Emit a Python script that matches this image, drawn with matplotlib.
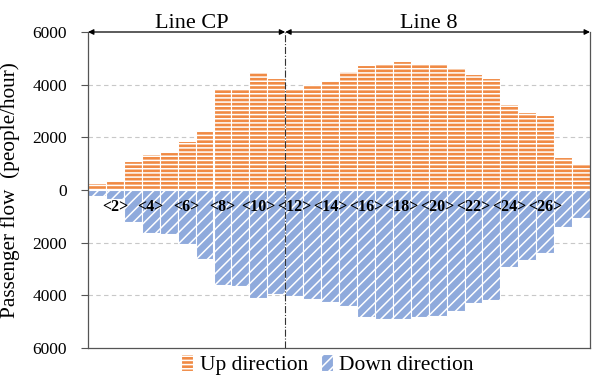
import numpy as np
import matplotlib
matplotlib.use("Agg")
import matplotlib.pyplot as plt
from matplotlib.ticker import FuncFormatter

# flujo por estación (personas/hora)
up_flow = [250, 350, 1100, 1350, 1460, 1850, 2230, 3880, 3880, 4480, 4260,
           3850, 3970, 4140, 4520, 4730, 4790, 4890, 4790, 4790, 4650, 4390,
           4260, 3250, 2960, 2830, 1240, 990]
down_flow = [240, 330, 1210, 1620, 1660, 2040, 2630, 3590, 3640, 4100, 3940,
             4020, 4150, 4250, 4400, 4820, 4880, 4880, 4820, 4790, 4610, 4290,
             4190, 2920, 2670, 2380, 1400, 1060]
station_labels = ["<%d>" % k for k in range(2, 27, 2)]
line_names = ["Line CP", "Line 8"]
n_cp = 11  # estaciones en Line CP

plt.rcParams["font.family"] = ["Liberation Serif", "DejaVu Serif"]
plt.rcParams["hatch.linewidth"] = 1.1

fig = plt.figure(figsize=(5.92, 3.76), dpi=100)
ax = fig.add_axes([88 / 592, 1 - 348 / 376, 502 / 592, 316 / 376])

x = np.arange(len(up_flow))
ax.bar(x, up_flow, width=1.0, color="#F08A44", edgecolor="white",
       linewidth=0.8, hatch="----", label="Up direction", zorder=2)
ax.bar(x, -np.array(down_flow), width=1.0, color="#8FAADC", edgecolor="white",
       linewidth=0.8, hatch="///", label="Down direction", zorder=2)

ax.set_xlim(-0.5, len(up_flow) - 0.5)
ax.set_ylim(-6000, 6000)
ax.set_yticks([-6000, -4000, -2000, 0, 2000, 4000, 6000])
ax.yaxis.set_major_formatter(FuncFormatter(lambda v, p: "%d" % abs(v)))
ax.tick_params(axis="y", labelsize=12.5, length=5, pad=10, color="#555555")
ax.set_xticks([])
for v in [-4000, -2000, 2000, 4000]:
    ax.axhline(v, color="#C8C8C8", lw=0.8, ls=(0, (4, 3)), zorder=1)

# etiquetas de estaciones
for k, lab in zip(range(2, 27, 2), station_labels):
    ax.text(k - 1, -640, lab, ha="center", va="center", fontsize=11.5,
            fontweight="bold", zorder=3)

ax.spines["top"].set_visible(False)
for s in ["left", "right", "bottom"]:
    ax.spines[s].set_color("#555555")
    ax.spines[s].set_linewidth(0.9)

# división entre líneas
div = n_cp - 0.5
ax.axvline(div, color="#333333", lw=0.8, ls="-.", zorder=3)
ax.annotate("", xy=(-0.5, 6000), xytext=(div, 6000),
            arrowprops=dict(arrowstyle="<|-|>", color="black", lw=0.9,
                            shrinkA=0, shrinkB=0, mutation_scale=8),
            annotation_clip=False)
ax.annotate("", xy=(div, 6000), xytext=(len(up_flow) - 0.5, 6000),
            arrowprops=dict(arrowstyle="<|-|>", color="black", lw=0.9,
                            shrinkA=0, shrinkB=0, mutation_scale=8),
            annotation_clip=False)
ax.text(5.3, 6150, line_names[0], ha="center", va="baseline", fontsize=16,
        clip_on=False)
ax.text(18.5, 6150, line_names[1], ha="center", va="baseline", fontsize=16,
        clip_on=False)

ax.set_ylabel("Passenger flow  (people/hour)", fontsize=15.3, labelpad=9)

fig.legend(loc="center", bbox_to_anchor=(0.553, 0.03), ncol=2, frameon=False,
           fontsize=15.5, handlelength=0.55, handleheight=0.8,
           handletextpad=0.3, columnspacing=0.6, borderpad=0)

fig.savefig("out.png", dpi=100)
